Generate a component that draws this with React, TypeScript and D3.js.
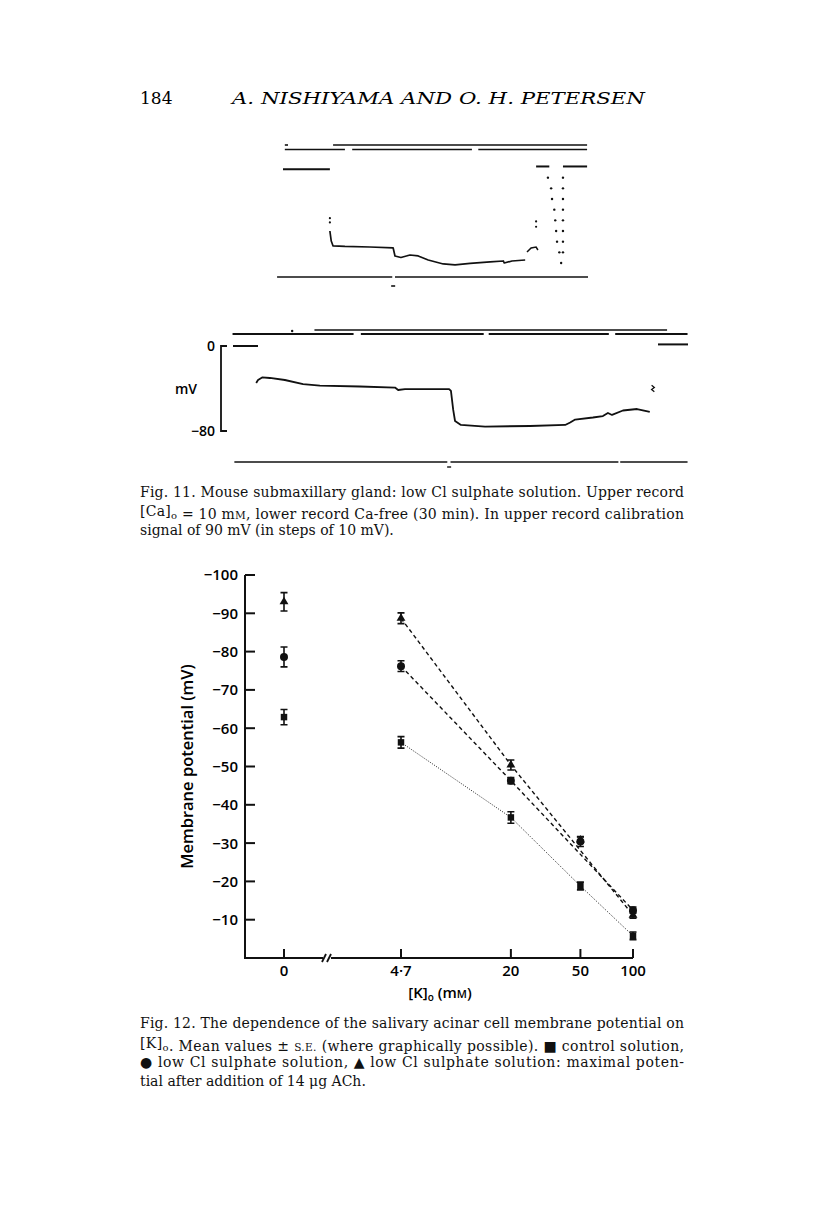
import React, { useRef, useEffect } from 'react';
import * as d3 from 'd3';

// ---- Fig. 12 data: membrane potential vs [K]o ----
const kConc = [0, 4.7, 20, 50, 100];
const kTickLabels = ['0', '4·7', '20', '50', '100'];
const yTickValues = [-100, -90, -80, -70, -60, -50, -40, -30, -20, -10];
const controlMean = [-62.9, -56.3, -36.7, -18.8, -5.8];
const controlSE = [2.0, 1.5, 1.5, 1.0, 1.0];
const lowClMean = [-78.6, -76.2, -46.3, -30.4, -12.5];
const lowClSE = [2.6, 1.4, 0.8, 1.3, 0.8];
const achMean = [-93.0, -88.7, -50.4, -30.8, -11.2];
const achSE = [2.4, 1.4, 1.3, 0.8, 0.8];
// concentrations each drawn line passes through
const controlLineK = [4.7, 20, 50, 100];
const dashedLineK = [4.7, 20, 100];

// ---- Fig. 11 data: intracellular records (time in arbitrary units, mV) ----
const upperTime = [10.3, 10.6, 11.0, 13.6, 19.1, 24.2, 24.6, 25.9, 27.9, 29.7, 31.9, 35.2, 37.8, 41.1, 45.5, 48.4, 48.6, 50.3, 53.2];
const upperMv = [-60.0, -69.4, -74.0, -74.5, -75.0, -75.9, -83.4, -84.8, -82.5, -83.4, -87.2, -90.9, -91.8, -90.4, -89.0, -88.1, -90.0, -88.1, -87.2];
const upperHookTime = [53.6, 54.5, 55.6, 56.0];
const upperHookMv = [-79.7, -75.9, -75.0, -77.8];
const calStepsMv = [-10, -20, -30, -40, -50, -60, -70, -80, -90];
const calDownTime = [58.2, 58.9, 59.1, 59.6, 59.8, 60.0, 60.2, 60.7];
const calUpTime = [61.5, 61.5, 61.5, 61.5, 61.5, 61.5, 61.5, 61.5, 61.1];

const lowerTime = [5.1, 5.5, 6.4, 8.1, 11.4, 15.4, 19.1, 27.9, 35.6, 36.3, 37.8, 47.5, 47.9, 48.4, 48.8, 50.1, 55.4, 65.3, 73.0, 74.1, 75.2, 79.1, 81.3, 82.4, 83.3, 85.7, 88.8, 91.6];
const lowerMv = [-34.8, -32.0, -29.6, -30.1, -32.0, -35.8, -37.2, -38.1, -39.1, -41.4, -40.5, -40.5, -42.3, -60.2, -70.6, -74.3, -75.8, -75.3, -74.3, -72.0, -69.2, -67.3, -65.9, -63.0, -64.9, -60.7, -59.3, -62.1];

// stimulus / marker bars (start, end in time units)
const upperBarTop = [[0.4, 1.1], [11.0, 66.8]];
const upperBarMid = [[0.4, 13.6], [15.2, 41.5], [42.9, 66.8]];
const upperBarBottom = [[-1.3, 24.0], [24.6, 67.0]];
const upperBaseline = [[0, 10.3, -2], [55.6, 58.5, 0.5], [61.5, 66.8, 0.5]];
const lowerBarTop = [[17.9, 95.4]];
const lowerBarMid = [[-0.1, 26.5], [28.1, 55.1], [56.2, 82.6], [84.0, 99.9]];
const lowerBarBottom = [[0.3, 47.1], [47.8, 84.7], [85.1, 99.9]];
const lowerBaseline = [[0, 5.5, 0], [93.4, 100, 1.5]];

const SERIF = '"DejaVu Serif", serif';
const SANS = '"Open Sans", "Noto Sans", sans-serif';

export default function App() {
  const svgRef = useRef<SVGSVGElement>(null);

  useEffect(() => {
    document.body.style.margin = '0';
    const svg = d3.select(svgRef.current);
    svg.selectAll('*').remove();

    // page header
    svg.append('text').attr('x', 140).attr('y', 104)
      .style('font-family', SERIF).style('font-size', '17px').text('184');
    svg.append('text').attr('x', 232).attr('y', 104)
      .attr('textLength', 413).attr('lengthAdjust', 'spacingAndGlyphs')
      .style('font-family', SERIF).style('font-size', '17px').style('font-style', 'italic')
      .text('A. NISHIYAMA AND O. H. PETERSEN');

    // ---------- Fig. 11 ----------
    const tUp = d3.scaleLinear().domain([0, 67]).range([283, 588]);
    const vUp = d3.scaleLinear().domain([0, -90]).range([167, 263]);
    const tLo = d3.scaleLinear().domain([0, 100]).range([233, 688]);
    const vLo = d3.scaleLinear().domain([0, -80]).range([346, 431]);

    const bars = (segs, sc, y, w) => {
      svg.append('g').selectAll('line').data(segs).join('line')
        .attr('x1', d => sc(d[0])).attr('x2', d => sc(d[1]))
        .attr('y1', y).attr('y2', y)
        .attr('stroke', '#111').attr('stroke-width', w);
    };
    bars(upperBarTop, tUp, 145, 1.6);
    bars(upperBarMid, tUp, 149.5, 1.6);
    bars(upperBarBottom, tUp, 277, 1.6);
    bars(lowerBarTop, tLo, 330, 1.6);
    bars(lowerBarMid, tLo, 334, 1.8);
    bars(lowerBarBottom, tLo, 462, 1.6);

    // baselines (0 mV before impalement / after withdrawal)
    svg.append('g').selectAll('line').data(upperBaseline).join('line')
      .attr('x1', d => tUp(d[0])).attr('x2', d => tUp(d[1]))
      .attr('y1', d => vUp(d[2])).attr('y2', d => vUp(d[2]))
      .attr('stroke', '#111').attr('stroke-width', 2);
    svg.append('g').selectAll('line').data(lowerBaseline).join('line')
      .attr('x1', d => tLo(d[0])).attr('x2', d => tLo(d[1]))
      .attr('y1', d => vLo(d[2])).attr('y2', d => vLo(d[2]))
      .attr('stroke', '#111').attr('stroke-width', 2);

    // small markers on the bars (solution change)
    svg.append('line').attr('x1', tUp(24.2) - 2).attr('x2', tUp(24.2) + 2)
      .attr('y1', 286).attr('y2', 286).attr('stroke', '#111').attr('stroke-width', 1.6);
    svg.append('line').attr('x1', tLo(47.5) - 2).attr('x2', tLo(47.5) + 2)
      .attr('y1', 467).attr('y2', 467).attr('stroke', '#111').attr('stroke-width', 1.4);
    svg.append('circle').attr('cx', tLo(13)).attr('cy', 331).attr('r', 1.2).attr('fill', '#111');

    const upLine = d3.line<number>().x((d, i) => tUp(upperTime[i])).y(d => vUp(d));
    svg.append('path').attr('d', upLine(upperMv))
      .attr('fill', 'none').attr('stroke', '#111').attr('stroke-width', 1.7).attr('stroke-linejoin', 'round');
    const hookLine = d3.line<number>().x((d, i) => tUp(upperHookTime[i])).y(d => vUp(d));
    svg.append('path').attr('d', hookLine(upperHookMv))
      .attr('fill', 'none').attr('stroke', '#111').attr('stroke-width', 1.5);
    // impalement artefact dots
    svg.append('g').selectAll('circle').data([-48, -52]).join('circle')
      .attr('cx', tUp(10.3)).attr('cy', d => vUp(d)).attr('r', 1.1).attr('fill', '#111');
    svg.append('g').selectAll('circle').data([-51, -56]).join('circle')
      .attr('cx', tUp(55.6)).attr('cy', d => vUp(d)).attr('r', 1.1).attr('fill', '#111');
    // calibration steps drawn as dots
    svg.append('g').selectAll('circle').data(calDownTime).join('circle')
      .attr('cx', d => tUp(d)).attr('cy', (d, i) => vUp(calStepsMv[i])).attr('r', 1.2).attr('fill', '#111');
    svg.append('g').selectAll('circle').data(calUpTime).join('circle')
      .attr('cx', d => tUp(d)).attr('cy', (d, i) => vUp(calStepsMv[i])).attr('r', 1.2).attr('fill', '#111');

    const loLine = d3.line<number>().x((d, i) => tLo(lowerTime[i])).y(d => vLo(d));
    svg.append('path').attr('d', loLine(lowerMv))
      .attr('fill', 'none').attr('stroke', '#111').attr('stroke-width', 1.8).attr('stroke-linejoin', 'round');
    // artefact at end of lower record
    svg.append('path')
      .attr('d', `M${tLo(92.0)},${vLo(-37)} L${tLo(92.6)},${vLo(-39)} L${tLo(92.0)},${vLo(-41)} L${tLo(92.6)},${vLo(-43)}`)
      .attr('fill', 'none').attr('stroke', '#111').attr('stroke-width', 1.3);

    // lower record scale bar
    const sbX = 221;
    svg.append('path')
      .attr('d', `M${sbX + 6},${vLo(0)} H${sbX} V${vLo(-80)} H${sbX + 6}`)
      .attr('fill', 'none').attr('stroke', '#111').attr('stroke-width', 1.8);
    svg.append('text').attr('x', sbX - 6).attr('y', vLo(0)).attr('dy', '0.36em')
      .attr('text-anchor', 'end').style('font-family', SANS).style('font-size', '14px')
      .style('font-weight', 600).text('0');
    svg.append('text').attr('x', sbX - 6).attr('y', vLo(-80)).attr('dy', '0.36em')
      .attr('text-anchor', 'end').style('font-family', SANS).style('font-size', '14px')
      .style('font-weight', 600).text('−80');
    svg.append('text').attr('x', 186).attr('y', vLo(-40)).attr('dy', '0.36em')
      .attr('text-anchor', 'middle').style('font-family', SANS).style('font-size', '14px')
      .style('font-weight', 600).text('mV');

    // captions
    const caption = (x, y, justify, parts) => {
      const t = svg.append('text').attr('x', x).attr('y', y)
        .style('font-family', SERIF).style('font-size', '14px').attr('fill', '#111');
      if (justify) t.attr('textLength', 544).attr('lengthAdjust', 'spacing');
      parts.forEach(p => {
        if (typeof p === 'string') t.append('tspan').text(p);
        else if (p.sub) {
          t.append('tspan').attr('dy', 3).style('font-size', '10px').text(p.sub);
          t.append('tspan').attr('dy', -3).text('');
        } else if (p.sc) t.append('tspan').style('font-size', '10.5px').text(p.sc);
      });
    };
    caption(140, 497, true, ['Fig. 11. Mouse submaxillary gland: low Cl sulphate solution. Upper record']);
    caption(140, 516, true, ['[Ca]', { sub: 'o' }, ' = 10 m', { sc: 'M' }, ', lower record Ca-free (30 min). In upper record calibration']);
    caption(140, 535, false, ['signal of 90 mV (in steps of 10 mV).']);

    caption(140, 1028, true, ['Fig. 12. The dependence of the salivary acinar cell membrane potential on']);
    caption(140, 1048, true, ['[K]', { sub: 'o' }, '. Mean values ± ', { sc: 'S.E.' }, ' (where graphically possible). ■ control solution,']);
    caption(140, 1067, true, ['● low Cl sulphate solution, ▲ low Cl sulphate solution: maximal poten-']);
    caption(140, 1086, false, ['tial after addition of 14 μg ACh.']);

    // ---------- Fig. 12 ----------
    const y = d3.scaleLinear().domain([0, -100]).range([958, 575]);
    const xLog = d3.scaleLog().domain([4.7, 100]).range([401, 633]);
    const zeroX = 284;
    const x = k => (k === 0 ? zeroX : xLog(k));
    const axisX = 245;
    const breakX = 323;

    const g = svg.append('g');
    g.append('line').attr('x1', axisX).attr('x2', axisX).attr('y1', y(0)).attr('y2', y(-100))
      .attr('stroke', '#111').attr('stroke-width', 2);
    g.selectAll('.ytick').data(yTickValues).join('line').attr('class', 'ytick')
      .attr('x1', axisX).attr('x2', axisX + 10).attr('y1', d => y(d)).attr('y2', d => y(d))
      .attr('stroke', '#111').attr('stroke-width', 2);
    g.selectAll('.ylab').data(yTickValues).join('text').attr('class', 'ylab')
      .attr('x', axisX - 7).attr('y', d => y(d)).attr('dy', '0.36em').attr('text-anchor', 'end')
      .style('font-family', SANS).style('font-size', '15px').style('font-weight', 600)
      .text(d => `−${Math.abs(d)}`);

    // x axis with break
    g.append('line').attr('x1', axisX - 1).attr('x2', breakX).attr('y1', y(0)).attr('y2', y(0))
      .attr('stroke', '#111').attr('stroke-width', 2);
    g.append('line').attr('x1', breakX + 8).attr('x2', xLog(100)).attr('y1', y(0)).attr('y2', y(0))
      .attr('stroke', '#111').attr('stroke-width', 2);
    g.selectAll('.brk').data([0, 5]).join('line').attr('class', 'brk')
      .attr('x1', d => breakX - 1 + d).attr('x2', d => breakX + 3 + d)
      .attr('y1', y(0) + 4).attr('y2', y(0) - 4)
      .attr('stroke', '#111').attr('stroke-width', 1.8);
    g.selectAll('.xtick').data(kConc).join('line').attr('class', 'xtick')
      .attr('x1', d => x(d)).attr('x2', d => x(d)).attr('y1', y(0)).attr('y2', y(0) - 9)
      .attr('stroke', '#111').attr('stroke-width', 2);
    g.selectAll('.xlab').data(kConc).join('text').attr('class', 'xlab')
      .attr('x', d => x(d)).attr('y', y(0) + 18).attr('text-anchor', 'middle')
      .style('font-family', SANS).style('font-size', '15px').style('font-weight', 600)
      .text((d, i) => kTickLabels[i]);

    // axis titles
    const xt = g.append('text').attr('x', 440).attr('y', 998).attr('text-anchor', 'middle')
      .style('font-family', SANS).style('font-size', '15px').style('font-weight', 600);
    xt.append('tspan').text('[K]');
    xt.append('tspan').attr('dy', 3).style('font-size', '10px').text('o');
    xt.append('tspan').attr('dy', -3).text(' (m');
    xt.append('tspan').style('font-size', '11px').text('M');
    xt.append('tspan').text(')');
    g.append('text').attr('transform', `translate(193,${y(-50)}) rotate(-90)`)
      .attr('text-anchor', 'middle')
      .style('font-family', SANS).style('font-size', '16.5px').style('font-weight', 600)
      .text('Membrane potential (mV)');

    // connecting lines
    const lineFor = (mean, ks) => d3.line<number>().x(k => x(k)).y(k => y(mean[kConc.indexOf(k)]))(ks);
    g.append('path').attr('d', lineFor(controlMean, controlLineK))
      .attr('fill', 'none').attr('stroke', '#222').attr('stroke-width', 1).attr('stroke-dasharray', '1,1.5');
    g.append('path').attr('d', lineFor(lowClMean, dashedLineK))
      .attr('fill', 'none').attr('stroke', '#111').attr('stroke-width', 1.4).attr('stroke-dasharray', '4,3');
    g.append('path').attr('d', lineFor(achMean, dashedLineK))
      .attr('fill', 'none').attr('stroke', '#111').attr('stroke-width', 1.4).attr('stroke-dasharray', '4,3');

    // error bars and markers
    const series = [
      { mean: controlMean, se: controlSE, sym: d3.symbolSquare, size: 42 },
      { mean: lowClMean, se: lowClSE, sym: d3.symbolCircle, size: 50 },
      { mean: achMean, se: achSE, sym: d3.symbolTriangle, size: 34 },
    ];
    series.forEach(s => {
      const pts = kConc.map((k, i) => ({ k, m: s.mean[i], e: s.se[i] }));
      const eb = g.append('g').selectAll('path').data(pts).join('path')
        .attr('d', p => {
          const cx = x(p.k), t = y(p.m - p.e), b = y(p.m + p.e);
          return `M${cx - 3.5},${t} H${cx + 3.5} M${cx},${t} V${b} M${cx - 3.5},${b} H${cx + 3.5}`;
        })
        .attr('fill', 'none').attr('stroke', '#111').attr('stroke-width', 1.6);
      g.append('g').selectAll('path').data(pts).join('path')
        .attr('transform', p => `translate(${x(p.k)},${y(p.m)})`)
        .attr('d', d3.symbol().type(s.sym).size(s.size)())
        .attr('fill', '#111');
    });
  }, []);

  return <svg ref={svgRef} width={816} height={1205} style={{ display: 'block', background: '#fff' }} />;
}
